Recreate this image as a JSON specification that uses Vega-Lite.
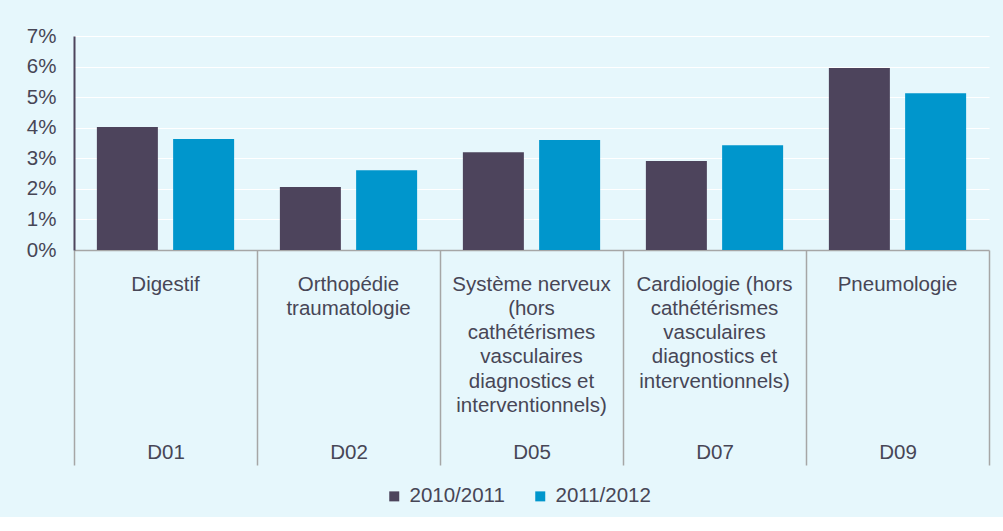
{
  "$schema": "https://vega.github.io/schema/vega-lite/v6.json",
  "width": 915,
  "height": 214,
  "padding": {"left": 26, "top": 26, "right": 14, "bottom": 10},
  "background": "#e6f7fc",
  "config": {
    "view": {"stroke": null},
    "font": "Liberation Sans",
    "axis": {"labelColor": "#474656", "labelFontSize": 20.5, "labelFont": "Liberation Sans"},
    "legend": {"labelColor": "#474656", "labelFontSize": 20.5, "labelFont": "Liberation Sans"}
  },
  "data": {
    "values": [
      {"cat": "D01|Digestif", "year": "2010/2011", "value": 0.0402},
      {"cat": "D01|Digestif", "year": "2011/2012", "value": 0.0363},
      {"cat": "D02|Orthopédie|traumatologie", "year": "2010/2011", "value": 0.0206},
      {"cat": "D02|Orthopédie|traumatologie", "year": "2011/2012", "value": 0.0261},
      {"cat": "D05|Système nerveux|(hors|cathétérismes|vasculaires|diagnostics et|interventionnels)", "year": "2010/2011", "value": 0.032},
      {"cat": "D05|Système nerveux|(hors|cathétérismes|vasculaires|diagnostics et|interventionnels)", "year": "2011/2012", "value": 0.036},
      {"cat": "D07|Cardiologie (hors|cathétérismes|vasculaires|diagnostics et|interventionnels)", "year": "2010/2011", "value": 0.0291},
      {"cat": "D07|Cardiologie (hors|cathétérismes|vasculaires|diagnostics et|interventionnels)", "year": "2011/2012", "value": 0.0343},
      {"cat": "D09|Pneumologie", "year": "2010/2011", "value": 0.0595},
      {"cat": "D09|Pneumologie", "year": "2011/2012", "value": 0.0513}
    ]
  },
  "layer": [
    {
      "mark": {"type": "bar"},
      "encoding": {
        "x": {
          "field": "cat", "type": "nominal", "sort": null,
          "scale": {"paddingInner": 0, "paddingOuter": 0},
          "axis": {
            "title": null, "orient": "bottom", "labelAngle": 0,
            "labelExpr": "datum.value ? split(datum.value,'|')[0] : ''",
            "tickBand": "extent", "tickSize": 215, "tickColor": "#a6a6a6", "tickWidth": 1.5,
            "domainColor": "#a6a6a6", "domainWidth": 1.5,
            "labelBaseline": "middle", "labelPadding": -13
          }
        },
        "xOffset": {"field": "year", "type": "nominal", "scale": {"paddingInner": 0.2, "paddingOuter": 0.3}},
        "y": {
          "field": "value", "type": "quantitative",
          "scale": {"domain": [0, 0.07], "nice": false, "zero": true},
          "axis": {
            "title": null, "format": ".0%", "values": [0, 0.01, 0.02, 0.03, 0.04, 0.05, 0.06, 0.07],
            "ticks": false, "labelPadding": 18, "labelOverlap": false, "labelFlush": false,
            "domainColor": "#4d445c", "domainWidth": 2,
            "gridColor": "#ffffff", "gridWidth": 1.2
          }
        },
        "color": {
          "field": "year", "type": "nominal",
          "scale": {"domain": ["2010/2011", "2011/2012"], "range": ["#4d445c", "#0096cc"]},
          "legend": {
            "title": null, "orient": "none", "direction": "horizontal", "legendX": 310, "legendY": 450,
            "symbolType": "square", "symbolSize": 100, "symbolStrokeWidth": 0, "columnPadding": 25, "labelOffset": 5
          }
        }
      }
    },
    {
      "mark": {"type": "bar", "opacity": 0},
      "encoding": {
        "x": {
          "field": "cat", "type": "nominal", "sort": null,
          "axis": {
            "title": null, "orient": "bottom", "labelAngle": 0,
            "labelExpr": "slice(split(datum.value,'|'),1)",
            "ticks": false, "domain": false,
            "labelBaseline": "top", "labelPadding": 24, "labelLineHeight": 24.3
          }
        },
        "xOffset": {"field": "year", "type": "nominal"},
        "y": {
          "field": "value", "type": "quantitative",
          "scale": {"domain": [0, 0.07], "nice": false, "zero": true},
          "axis": {
            "title": null, "format": ".0%", "values": [0, 0.01, 0.02, 0.03, 0.04, 0.05, 0.06, 0.07],
            "ticks": false, "labelPadding": 18, "labelOverlap": false, "labelFlush": false,
            "domainColor": "#4d445c", "domainWidth": 2,
            "gridColor": "#ffffff", "gridWidth": 1.2
          }
        }
      }
    }
  ],
  "resolve": {"axis": {"x": "independent"}}
}
